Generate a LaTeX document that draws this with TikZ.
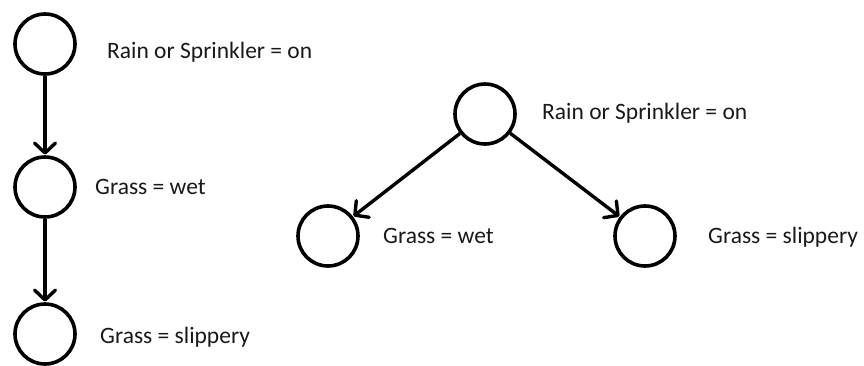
\documentclass[tikz,border=0pt]{standalone}
\usepackage{fontspec}
\setmainfont{Carlito}
\usetikzlibrary{arrows.meta}
\begin{document}
\begin{tikzpicture}[x=1pt,y=-1pt,
  var/.style={circle,draw=black,line width=3.6pt,minimum size=60pt,inner sep=0pt},
  lbl/.style={anchor=base west,inner sep=0pt,font=\fontsize{23.5}{28}\selectfont,text=black!90},
  arr/.style={line width=3.4pt,-{Straight Barb[length=10pt,width=21pt,line width=3.4pt,round]},shorten >=0.5pt}]
\useasboundingbox (0,0) rectangle (864,365);
% left chain
\node[var] (a1) at (45,44) {};
\node[var] (a2) at (45,187) {};
\node[var] (a3) at (45,334) {};
\node[lbl] (t1) at (107,58) {Rain or Sprinkler = on};
\node[lbl] (t2) at (95,194) {Grass = wet};
\node[lbl] (t3) at (100,343) {Grass = slippery};
\draw[arr] (a1) -- (a2);
\draw[arr] (a2) -- (a3);
% right tree
\node[var] (b1) at (485,114) {};
\node[var] (b2) at (328,236) {};
\node[var] (b3) at (645,236) {};
\node[lbl] (u1) at (542,119) {Rain or Sprinkler = on};
\node[lbl] (u2) at (383,243) {Grass = wet};
\node[lbl] (u3) at (708,243) {Grass = slippery};
\draw[arr] (b1) -- (b2);
\draw[arr] (b1) -- (b3);
\end{tikzpicture}
\end{document}
